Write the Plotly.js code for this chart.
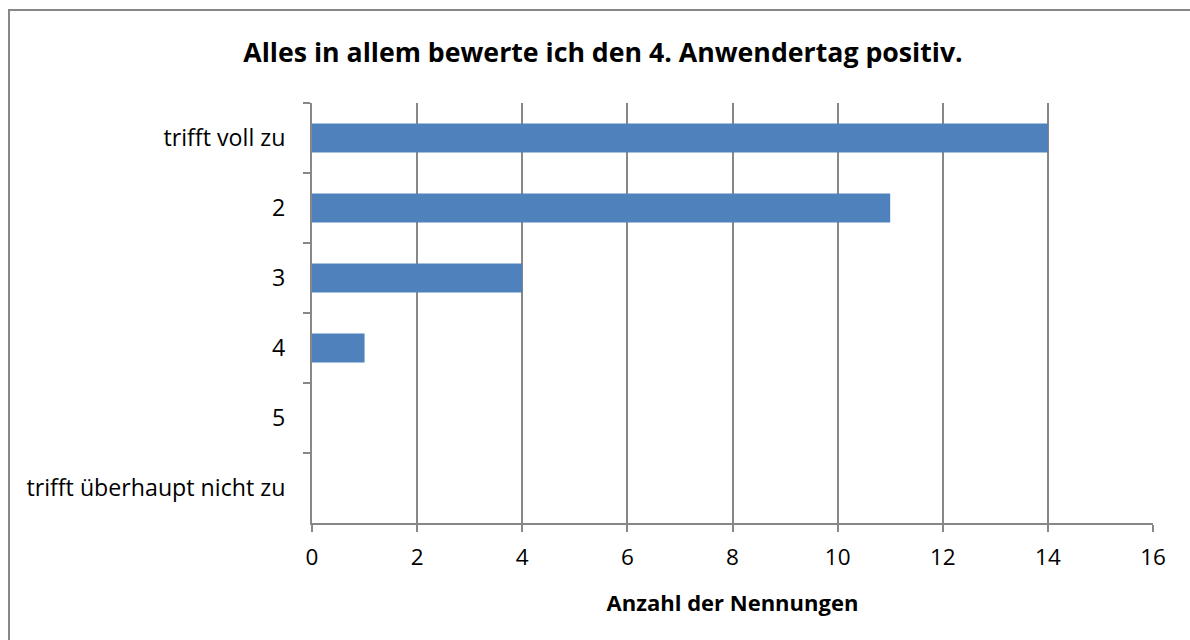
<!DOCTYPE html>
<html>
<head>
<meta charset="utf-8">
<script src="https://cdn.plot.ly/plotly-3.0.1.min.js"></script>
<style>html,body{margin:0;padding:0;background:#fff;}#chart{width:1190px;height:640px;}</style>
</head>
<body>
<div id="chart"></div>
<script>
const categories = ["trifft voll zu", "2", "3", "4", "5", "trifft überhaupt nicht zu"];
const counts = [14, 11, 4, 1, 0, 0];
const xTicks = [0, 2, 4, 6, 8, 10, 12, 14, 16];
const titleText = "Alles in allem bewerte ich den 4. Anwendertag positiv.";
const xTitleText = "Anzahl der Nennungen";

const L = 312, R = 37, T = 103, B = 117;
const W = 1190, H = 640;
const pw = W - L - R, ph = H - T - B;
const px = v => (v - L) / pw;
const py = v => (H - B - v) / ph;

const font = "Open Sans, Noto Sans, sans-serif";
const data = [{
  type: "bar",
  orientation: "h",
  x: counts,
  y: categories,
  marker: {color: "#4F81BD", line: {width: 0}},
  hoverinfo: "x+y"
}];
const layout = {
  width: W, height: H,
  margin: {l: L, r: R, t: T, b: B, pad: 0},
  paper_bgcolor: "#ffffff",
  plot_bgcolor: "#ffffff",
  bargap: 0.586,
  showlegend: false,
  font: {family: font, color: "#000000", size: 22},
  title: {text: "<b>" + titleText + "</b>", x: 603/W, xref: "container", xanchor: "center",
          y: 1 - 53/H, yref: "container", yanchor: "middle",
          font: {family: font, size: 26.7, color: "#000"}},
  xaxis: {
    range: [0, 16], tickvals: xTicks, ticktext: xTicks.map(String),
    showgrid: true, gridcolor: "#878787", gridwidth: 2,
    zeroline: false, showline: true, linecolor: "#878787", linewidth: 2,
    ticks: "outside", ticklen: 7, tickcolor: "#878787", tickwidth: 2,
    ticklabelstandoff: 6,
    tickfont: {family: font, size: 22.5, color: "#000"},
    title: {text: "<b>" + xTitleText + "</b>", standoff: 25, font: {family: font, size: 22, color: "#000"}},
    fixedrange: true
  },
  yaxis: {
    type: "category", autorange: "reversed",
    tickson: "boundaries",
    showgrid: false, zeroline: false, showline: true, linecolor: "#878787", linewidth: 2,
    ticks: "outside", ticklen: 7, tickcolor: "#878787", tickwidth: 2,
    ticklabelstandoff: 20,
    tickfont: {family: font, size: 23.2, color: "#000"},
    fixedrange: true
  },
  shapes: [{
    type: "rect", xref: "paper", yref: "paper",
    x0: px(9), x1: px(1200), y0: py(650), y1: py(10),
    line: {color: "#878787", width: 2}, fillcolor: "rgba(0,0,0,0)", layer: "below"
  }]
};
Plotly.newPlot("chart", data, layout, {displayModeBar: false, staticPlot: true});
</script>
</body>
</html>
